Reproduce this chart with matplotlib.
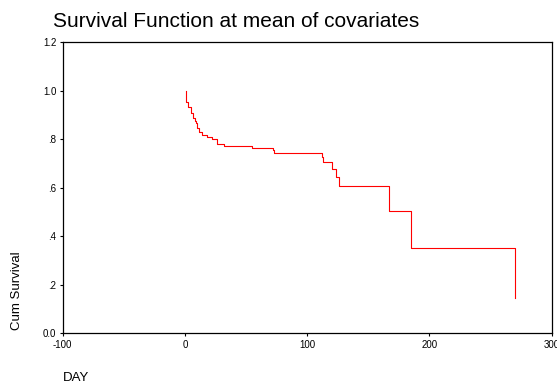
import matplotlib
matplotlib.use('Agg')
import matplotlib.pyplot as plt

plt.rcParams['font.family'] = ['Liberation Sans', 'DejaVu Sans']

# Survival curve (step function, value after each time)
days = [0.6, 0.6, 2.7, 5.2, 6.8, 8.0, 8.8, 10.1, 11.5, 13.7, 17.8, 22.4, 26.0,
        31.9, 55.1, 71.8, 73.1, 112.4, 112.9, 120.5, 123.8, 126.0, 166.9,
        185.2, 270.2]
surv = [1.0, 0.955, 0.932, 0.907, 0.889, 0.877, 0.866, 0.845, 0.829, 0.818,
        0.808, 0.800, 0.782, 0.774, 0.765, 0.756, 0.743, 0.726, 0.705, 0.676,
        0.646, 0.607, 0.504, 0.353, 0.144]

x_ticks = [-100, 0, 100, 200, 300]
x_labels = ['-100', '0', '100', '200', '300']
y_ticks = [0.0, 0.2, 0.4, 0.6, 0.8, 1.0, 1.2]
y_labels = ['0.0', '.2', '.4', '.6', '.8', '1.0', '1.2']

fig = plt.figure(figsize=(5.57, 3.90), dpi=100)
ax = fig.add_axes([0.1126, 0.1454, 0.8779, 0.7461])

ax.plot(days, surv, drawstyle='steps-post', color='red', linewidth=0.8)

ax.set_xlim(-100, 300)
ax.set_ylim(0, 1.2)
ax.set_xticks(x_ticks)
ax.set_xticklabels(x_labels)
ax.set_yticks(y_ticks)
ax.set_yticklabels(y_labels)
ax.tick_params(direction='out', length=2.5, width=0.8, labelsize=7,
               pad=2, colors='black')

for s in ax.spines.values():
    s.set_linewidth(0.9)

fig.text(0.095, 0.945, 'Survival Function at mean of covariates',
         fontsize=15, ha='left', va='center')
fig.text(0.03, 0.155, 'Cum Survival', rotation=90, fontsize=9.5,
         ha='center', va='bottom')
fig.text(0.113, 0.03, 'DAY', fontsize=9.5, ha='left', va='center')

fig.savefig('out.png', dpi=100)
